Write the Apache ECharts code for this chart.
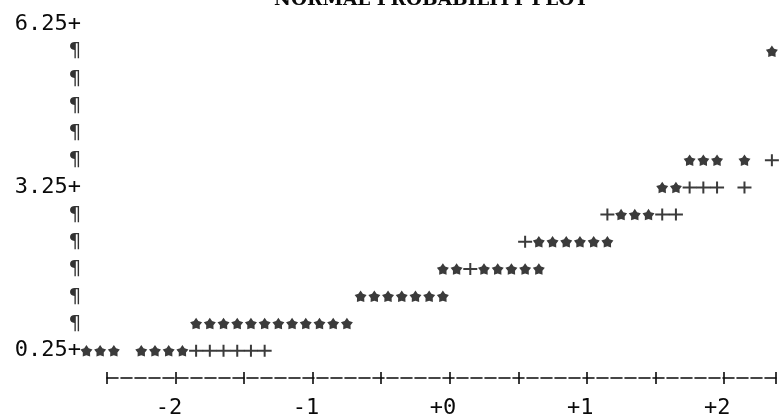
<!DOCTYPE html>
<html>
<head>
<meta charset="utf-8">
<script src="https://cdn.jsdelivr.net/npm/echarts@6/dist/echarts.min.js"></script>
<style>
  html, body { margin: 0; padding: 0; background: #ffffff; }
  #chart { width: 779px; height: 419px; }
</style>
</head>
<body>
<div id="chart"></div>
<script>
// Row values (vertical scale) that hold plotted characters
const rowValues = [0.25, 0.75, 1.25, 1.75, 2.25, 2.75, 3.25, 3.75, 5.75];

// Normal quantiles of the observations ('*'), one list per row
const starQuantiles = [
  [-2.65, -2.55, -2.45, -2.25, -2.15, -2.05, -1.95],
  [-1.85, -1.75, -1.65, -1.55, -1.45, -1.35, -1.25, -1.15, -1.05, -0.95, -0.85, -0.75],
  [-0.65, -0.55, -0.45, -0.35, -0.25, -0.15, -0.05],
  [-0.05, 0.05, 0.25, 0.35, 0.45, 0.55, 0.65],
  [0.65, 0.75, 0.85, 0.95, 1.05, 1.15],
  [1.25, 1.35, 1.45],
  [1.55, 1.65],
  [1.75, 1.85, 1.95, 2.15],
  [2.35]
];

// Reference normal line ('+'), where it is not hidden by observations
const refQuantiles = [
  [-1.85, -1.75, -1.65, -1.55, -1.45, -1.35],
  [],
  [],
  [0.15],
  [0.55],
  [1.15, 1.55, 1.65],
  [1.75, 1.85, 1.95, 2.15],
  [2.35],
  []
];

// Axis labelling
const yLabelValues = [0.25, 3.25, 6.25];
const yRowMarks = [0.75, 1.25, 1.75, 2.25, 2.75, 3.75, 4.25, 4.75, 5.25, 5.75];
const xLabelValues = [-2, -1, 0, 1, 2];
const xLabelTexts = ['-2', '-1', '+0', '+1', '+2'];

const starPoints = [];
starQuantiles.forEach((row, i) => row.forEach(q => starPoints.push([q, rowValues[i]])));
const refPoints = [];
refQuantiles.forEach((row, i) => row.forEach(q => refPoints.push([q, rowValues[i]])));

// Printed asterisk drawn as a heavy five-point star, and a thin plus
const STAR = 'path://M50,0 L67.63,25.73 L97.55,34.55 L78.53,59.27 L79.39,90.45 L50,80 L20.61,90.45 L21.47,59.27 L2.45,34.55 L32.37,25.73 Z';
const PLUS = 'path://M0,5 H14 V7 H0 Z M6,0 H8 V12 H6 Z';

const INK = '#0a0a0a';
const MONO = '"DejaVu Sans Mono", monospace';

const near = (a, b) => Math.abs(a - b) < 1e-6;

const xScale = { type: 'value', min: -2.5, max: 2.38, interval: 0.5 };

const chart = echarts.init(document.getElementById('chart'), null, { renderer: 'canvas' });
chart.setOption({
  animation: false,
  backgroundColor: '#ffffff',
  grid: { left: 107, right: 0, top: 24, bottom: 37.5, containLabel: false },
  graphic: [{
    type: 'text',
    left: 274,
    top: -9,
    style: {
      text: 'NORMAL PROBABILITY PLOT',
      font: 'bold 18.5px "DejaVu Serif", serif',
      fill: INK
    }
  }],
  xAxis: [
    Object.assign({}, xScale, {
      position: 'bottom',
      axisLine: { show: true, onZero: false, lineStyle: { color: INK, width: 1.6, type: [11, 3] } },
      axisTick: { show: true, inside: false, length: 6, lineStyle: { color: INK, width: 1.6 } },
      splitLine: { show: false },
      axisLabel: {
        show: true,
        margin: 19,
        color: INK,
        fontFamily: MONO,
        fontSize: 22,
        formatter: v => {
          const k = xLabelValues.findIndex(t => near(t, v));
          return k >= 0 ? xLabelTexts[k] + ' ' : '';
        }
      }
    }),
    Object.assign({}, xScale, {
      position: 'bottom',
      offset: 0,
      axisLine: { show: false, onZero: false },
      axisTick: { show: true, inside: true, length: 6, lineStyle: { color: INK, width: 1.6 } },
      splitLine: { show: false },
      axisLabel: { show: false }
    })
  ],
  yAxis: {
    type: 'value',
    min: -0.25,
    max: 6.25,
    interval: 0.25,
    axisLine: { show: false },
    axisTick: { show: false },
    splitLine: { show: false },
    axisLabel: {
      show: true,
      margin: 26,
      color: INK,
      fontFamily: MONO,
      fontSize: 22,
      rich: {
        mark: { color: '#333333', fontFamily: MONO, fontSize: 20 }
      },
      formatter: v => {
        if (yLabelValues.some(t => near(t, v))) return v.toFixed(2) + '+';
        if (yRowMarks.some(t => near(t, v))) return '{mark|¶}';
        return '';
      }
    }
  },
  series: [
    {
      name: 'Observations',
      type: 'scatter',
      clip: false,
      xAxisIndex: 0,
      symbol: STAR,
      symbolSize: [12, 11.5],
      itemStyle: { color: INK },
      data: starPoints
    },
    {
      name: 'Normal reference',
      type: 'scatter',
      clip: false,
      xAxisIndex: 0,
      symbol: PLUS,
      symbolSize: [14, 12],
      itemStyle: { color: INK },
      data: refPoints
    }
  ]
});
</script>
</body>
</html>
